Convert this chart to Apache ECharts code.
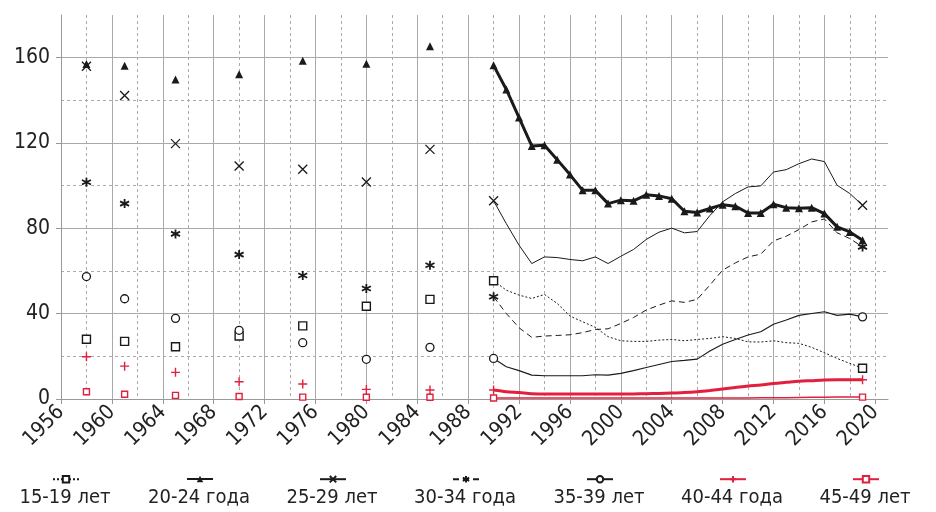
<!DOCTYPE html>
<html>
<head>
<meta charset="utf-8">
<script src="https://cdn.jsdelivr.net/npm/echarts@6/dist/echarts.min.js"></script>
<style>
html, body { margin: 0; padding: 0; background: #fff; }
#chart { width: 936px; height: 512px; }
</style>
</head>
<body>
<div id="chart"></div>
<script>
// возрастные группы
var names = ['15-19 лет', '20-24 года', '25-29 лет', '30-34 года', '35-39 лет', '40-44 года', '45-49 лет'];

// отдельные годы (точки)
var oldYears = [1958, 1961, 1965, 1970, 1975, 1980, 1985];
var old15 = [28, 27, 24.5, 29.5, 34.3, 43.5, 46.7];
var old20 = [157, 156.2, 149.8, 152.2, 158.5, 157.1, 165.3];
var old25 = [156, 142.3, 119.7, 109.2, 107.7, 101.7, 117];
var old30 = [101.6, 91.6, 77.4, 67.7, 57.9, 51.8, 62.7];
var old35 = [57.4, 47, 37.8, 32.2, 26.4, 18.6, 24.2];
var old40 = [19.8, 15.4, 12.5, 8.1, 7.0, 4.5, 4.2];
var old45 = [3.4, 2.2, 1.7, 1.2, 0.9, 0.8, 0.8];

// ежегодные ряды 1990-2019
var years = [1990, 1991, 1992, 1993, 1994, 1995, 1996, 1997, 1998, 1999,
             2000, 2001, 2002, 2003, 2004, 2005, 2006, 2007, 2008, 2009,
             2010, 2011, 2012, 2013, 2014, 2015, 2016, 2017, 2018, 2019];
var v15 = [55.4, 51.0, 48.7, 47.1, 49.0, 44.8, 38.9, 36.2, 33.6, 29.2,
           27.3, 27.0, 27.0, 27.6, 27.9, 27.3, 27.9, 28.4, 29.2, 28.4,
           26.8, 26.7, 27.3, 26.4, 26.1, 24.2, 21.7, 19.0, 16.7, 14.4];
var v20 = [156.4, 145.1, 131.9, 118.6, 118.9, 112.2, 105.2, 97.8, 97.8, 91.6,
           93.2, 92.9, 95.7, 95.2, 93.9, 88.0, 87.4, 89.3, 91.1, 90.4,
           87.2, 87.2, 91.3, 89.7, 89.4, 89.7, 86.9, 80.7, 78.3, 74.4];
var v25 = [92.9, 82.2, 72.1, 63.5, 66.6, 66.3, 65.4, 64.8, 66.6, 63.5,
           66.9, 70.1, 74.8, 78.2, 80.1, 77.9, 78.5, 86.0, 92.4, 96.3,
           99.4, 99.9, 106.4, 107.5, 110.3, 112.5, 111.3, 100.2, 96.3, 90.8];
var v30 = [47.9, 40.1, 33.4, 28.9, 29.5, 29.8, 30.1, 31.1, 32.6, 32.9,
           35.4, 38.2, 41.7, 44.0, 46.0, 45.3, 46.7, 53.4, 60.4, 63.8,
           66.6, 67.9, 74.1, 76.3, 79.4, 83.0, 84.4, 77.9, 75.2, 71.3];
var v35 = [19.0, 15.1, 13.3, 11.2, 10.9, 10.9, 10.9, 10.9, 11.4, 11.2,
           12.0, 13.3, 14.8, 16.2, 17.6, 18.1, 18.7, 22.5, 25.7, 27.9,
           30.0, 31.5, 35.0, 37.0, 39.2, 40.1, 40.9, 39.2, 39.8, 38.5];
var v40 = [4.2, 3.4, 3.0, 2.5, 2.3, 2.3, 2.3, 2.3, 2.3, 2.3,
           2.3, 2.4, 2.5, 2.6, 2.8, 3.0, 3.4, 4.0, 4.7, 5.4,
           6.1, 6.6, 7.3, 7.8, 8.3, 8.6, 8.9, 9.0, 9.0, 9.0];
var v45 = [0.5, 0.5, 0.5, 0.5, 0.5, 0.5, 0.5, 0.5, 0.5, 0.5,
           0.5, 0.5, 0.5, 0.5, 0.5, 0.5, 0.5, 0.5, 0.5, 0.5,
           0.5, 0.6, 0.6, 0.6, 0.7, 0.8, 0.8, 0.9, 0.9, 0.9];

var xTicks = [1956, 1960, 1964, 1968, 1972, 1976, 1980, 1984, 1988, 1992, 1996, 2000, 2004, 2008, 2012, 2016, 2020];

var BLACK = '#1a1a1a';
var RED = '#e0203c';
var FONT = '"Liberation Sans Narrow", "DejaVu Sans Condensed", sans-serif';
var SYM_X = 'path://M0,0L10,10M10,0L0,10';
var SYM_STAR = 'path://M5,0L5,10M0.67,2.5L9.33,7.5M0.67,7.5L9.33,2.5';
var SYM_PLUS = 'path://M5,0L5,10M0,5L10,5';
var legendX = [65, 199, 332, 465, 599, 732, 865];

// маркеры только на концах линии
function ends(vals) {
  return vals.map(function (v, i) {
    if (i === 0 || i === vals.length - 1) return [years[i], v];
    return { value: [years[i], v], symbol: 'none' };
  });
}
function all(vals) {
  return vals.map(function (v, i) { return [years[i], v]; });
}
function pts(vals) {
  return vals.map(function (v, i) { return [oldYears[i], v]; });
}

// стиль каждой группы
var styles = [
  { line: { color: BLACK, width: 1, type: [2, 2] }, sym: 'rect', size: 8, item: { color: '#fff', borderColor: BLACK, borderWidth: 1.4, opacity: 1 } },
  { line: { color: BLACK, width: 3, type: 'solid' }, sym: 'triangle', size: 8, item: { color: BLACK, borderColor: BLACK, borderWidth: 0, opacity: 1 } },
  { line: { color: BLACK, width: 1, type: 'solid' }, sym: SYM_X, size: 9, item: { color: BLACK, borderColor: BLACK, borderWidth: 1.3, opacity: 1 } },
  { line: { color: BLACK, width: 1, type: [6, 4] }, sym: SYM_STAR, size: 9, item: { color: BLACK, borderColor: BLACK, borderWidth: 1.8, opacity: 1 } },
  { line: { color: BLACK, width: 1.1, type: 'solid' }, sym: 'circle', size: 8, item: { color: '#fff', borderColor: BLACK, borderWidth: 1.3, opacity: 1 } },
  { line: { color: RED, width: 3, type: 'solid' }, sym: SYM_PLUS, size: 9, item: { color: RED, borderColor: RED, borderWidth: 1.4, opacity: 1 } },
  { line: { color: RED, width: 1.5, type: 'solid' }, sym: 'rect', size: 6, item: { color: '#fff', borderColor: RED, borderWidth: 1.4, opacity: 1 } }
];
var lineData = [ends(v15), all(v20), ends(v25), ends(v30), ends(v35), ends(v40), ends(v45)];
var pointData = [pts(old15), pts(old20), pts(old25), pts(old30), pts(old35), pts(old40), pts(old45)];

var series = [];
names.forEach(function (n, i) {
  var s = styles[i];
  series.push({
    name: n, type: 'line', data: lineData[i],
    symbol: s.sym, symbolSize: s.size, showAllSymbol: true,
    smooth: i === 5 ? 0.3 : false,
    lineStyle: s.line, itemStyle: s.item,
    z: i === 1 ? 5 : 3
  });
});
names.forEach(function (n, i) {
  var s = styles[i];
  series.push({
    name: n, type: 'scatter', data: pointData[i],
    symbol: s.sym, symbolSize: s.size, itemStyle: s.item, z: 4
  });
});

var chart = echarts.init(document.getElementById('chart'));
var option = {
  animation: false,
  grid: { left: 61, right: 48, top: 15, bottom: 113, outerBoundsMode: 'none' },
  xAxis: [
    {
      type: 'value', min: 1956, max: 2021, interval: 4,
      axisLine: { lineStyle: { color: '#999' } },
      axisTick: { show: true, length: 5, customValues: xTicks, lineStyle: { color: '#999' } },
      axisLabel: {
        rotate: 45, margin: 10, color: '#222', fontSize: 21, fontFamily: FONT,
        customValues: xTicks,
        formatter: function (v) { return v % 4 === 0 ? String(v) : ''; }
      },
      splitLine: { show: true, showMaxLine: false, lineStyle: { color: '#aaa', width: 1 } }
    },
    {
      type: 'value', min: 1956, max: 2021, interval: 2,
      axisLine: { show: false }, axisTick: { show: false }, axisLabel: { show: false },
      splitLine: { show: true, showMinLine: false, showMaxLine: false, lineStyle: { color: '#aaa', width: 1, type: [3, 3] } }
    }
  ],
  yAxis: [
    {
      type: 'value', min: 0, max: 180, interval: 40,
      axisLine: { show: true, lineStyle: { color: '#999' } },
      axisTick: { show: true, length: 5, lineStyle: { color: '#999' } },
      axisLabel: { color: '#222', fontSize: 21, fontFamily: FONT, margin: 11, showMaxLabel: false },
      splitLine: { show: true, showMaxLine: false, lineStyle: { color: '#aaa', width: 1 } }
    },
    {
      type: 'value', min: 0, max: 180, interval: 20,
      axisLine: { show: false }, axisTick: { show: false }, axisLabel: { show: false },
      splitLine: { show: true, showMinLine: false, showMaxLine: false, lineStyle: { color: '#aaa', width: 1, type: [3, 3] } }
    }
  ],
  legend: names.map(function (n, i) {
    return {
      data: [n], left: legendX[i] - 13, top: 475, padding: 0,
      itemWidth: 26, itemHeight: 8, selectedMode: false,
      formatter: function () { return ''; },
      textStyle: { fontSize: 1 }
    };
  }),
  graphic: names.map(function (n, i) {
    return {
      type: 'text', x: legendX[i], y: 498,
      style: {
        text: n, fill: '#222', font: '20px ' + FONT,
        align: 'center', verticalAlign: 'middle',
        textAlign: 'center', textVerticalAlign: 'middle'
      }
    };
  }),
  series: series
};
chart.setOption(option);
window.addEventListener('resize', function () { chart.resize(); });
</script>
</body>
</html>
